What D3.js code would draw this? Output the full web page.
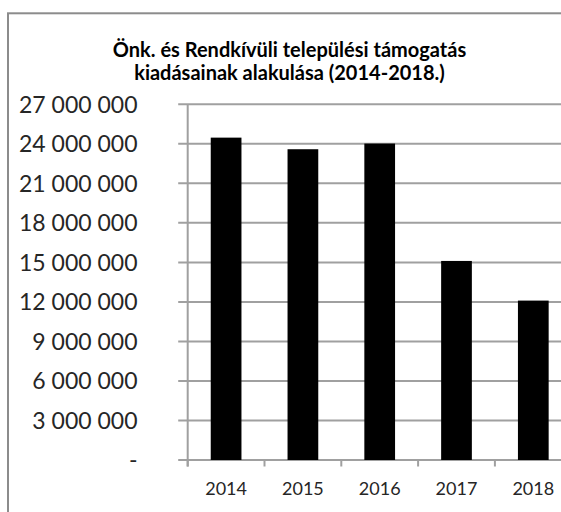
<!DOCTYPE html>
<html>
<head>
<meta charset="utf-8">
<script src="https://cdn.jsdelivr.net/npm/d3@7"></script>
<style>
  html, body { margin: 0; padding: 0; background: #fff; overflow: hidden; }
  svg { display: block; font-family: Lato, "Open Sans", sans-serif; }
</style>
</head>
<body>
<div id="chart"></div>
<script>
'use strict';

// chart data
const years = ['2014', '2015', '2016', '2017', '2018'];
const spending = [24470000, 23590000, 24020000, 15110000, 12100000];
const yTicks = [0, 3000000, 6000000, 9000000, 12000000, 15000000, 18000000, 21000000, 24000000, 27000000];
const titleLines = ['Önk. és Rendkívüli települési támogatás', 'kiadásainak alakulása (2014-2018.)'];

const width = 561, height = 512;
const margin = {top: 104.3, right: -10.7, bottom: 52, left: 187.7};
const gridColor = '#a0a0a0';

let svg = d3.select('#chart').append('svg')
    .attr('width', width)
    .attr('height', height);

// outer chart frame (runs past the right and bottom edge of the picture)
svg.append('rect')
    .attr('x', 8)
    .attr('y', 13.3)
    .attr('width', 600)
    .attr('height', 600)
    .attr('fill', 'none')
    .attr('stroke', '#8c8c8c')
    .attr('stroke-width', 2);

let x = d3.scaleBand()
    .domain(years)
    .range([margin.left, width - margin.right])
    .paddingInner(0.6)
    .paddingOuter(0.3);

let y = d3.scaleLinear()
    .domain([0, 27000000])
    .range([height - margin.bottom, margin.top]);

let huLocale = d3.formatLocale({decimal: ',', thousands: ' ', grouping: [3], currency: ['', '']});
let fmt = huLocale.format(',d');

// title
let title = svg.append('text')
    .attr('text-anchor', 'middle')
    .attr('font-weight', 'bold')
    .attr('fill', '#000');

title.selectAll('tspan')
    .data(titleLines)
    .enter().append('tspan')
    .attr('x', 289.5)
    .attr('y', (d, i) => 56.5 + i * 23)
    .attr('font-size', 20)
    .text(d => d);

// gridlines + left ticks
let grid = svg.append('g');
grid.selectAll('line')
    .data(yTicks)
    .enter().append('line')
    .attr('x1', margin.left - 9.5)
    .attr('x2', width - margin.right)
    .attr('y1', d => y(d))
    .attr('y2', d => y(d))
    .attr('stroke', gridColor)
    .attr('stroke-width', 2);

// y labels
svg.append('g').selectAll('text')
    .data(yTicks)
    .enter().append('text')
    .attr('x', 137.5)
    .attr('y', d => y(d))
    .attr('dy', '0.36em')
    .attr('text-anchor', 'end')
    .attr('font-size', 23)
    .attr('fill', '#262626')
    .text(d => d === 0 ? '-' : fmt(d));

// bars
svg.append('g').selectAll('rect')
    .data(spending)
    .enter().append('rect')
    .attr('x', (d, i) => x(years[i]))
    .attr('width', x.bandwidth())
    .attr('y', d => y(d))
    .attr('height', d => y(0) - y(d))
    .attr('fill', '#000');

// y axis line
svg.append('line')
    .attr('x1', margin.left)
    .attr('x2', margin.left)
    .attr('y1', y(27000000))
    .attr('y2', y(0) + 6.5)
    .attr('stroke', gridColor)
    .attr('stroke-width', 2);

// x ticks on category boundaries
let boundaries = years.map(d => x(d) - x.step() * x.paddingInner() / 2);
svg.append('g').selectAll('line')
    .data(boundaries)
    .enter().append('line')
    .attr('x1', d => d)
    .attr('x2', d => d)
    .attr('y1', y(0))
    .attr('y2', y(0) + 6.5)
    .attr('stroke', gridColor)
    .attr('stroke-width', 2);

// x labels
svg.append('g').selectAll('text')
    .data(years)
    .enter().append('text')
    .attr('x', d => x(d) + x.bandwidth() / 2)
    .attr('y', 494.5)
    .attr('text-anchor', 'middle')
    .attr('font-size', 18)
    .attr('fill', '#262626')
    .text(d => d);
</script>
</body>
</html>
